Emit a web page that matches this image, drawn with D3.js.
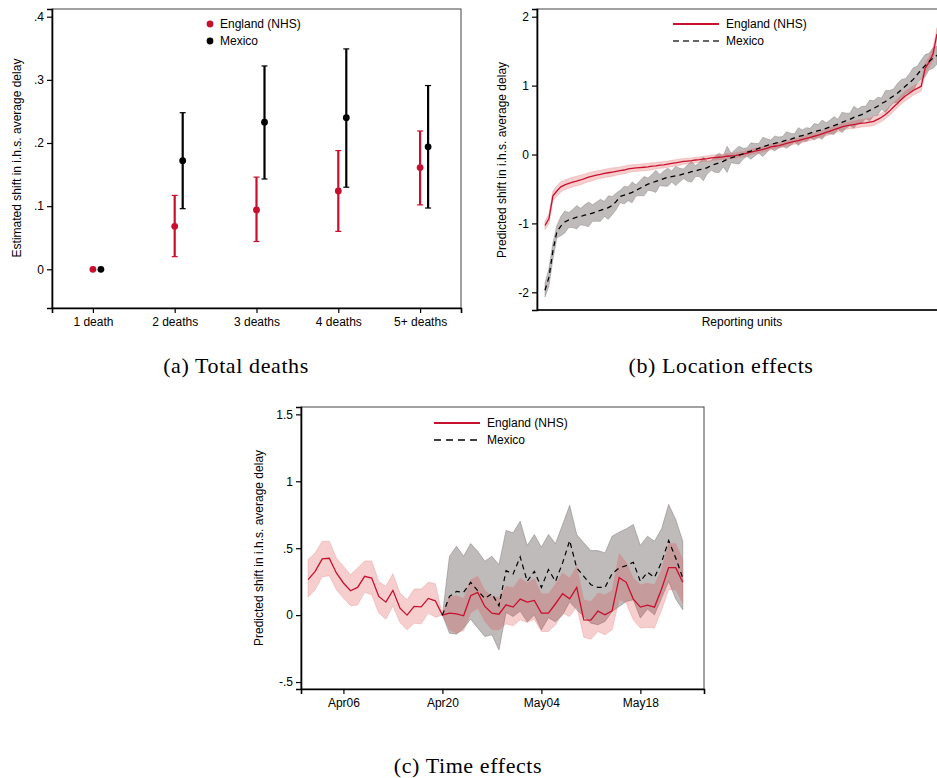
<!DOCTYPE html>
<html>
<head>
<meta charset="utf-8">
<script src="https://cdn.jsdelivr.net/npm/d3@7"></script>
<style>
body { margin: 0; background: #fff; }
text { font-family: "Liberation Sans", Arial, sans-serif; font-size: 12px; fill: #000; }
.caption { font-family: "Liberation Serif", "Times New Roman", serif; font-size: 22px; letter-spacing: 0.6px; }
</style>
</head>
<body>
<div id="chart"></div>
<script>
// (a) total deaths
var deathCats = ["1 death", "2 deaths", "3 deaths", "4 deaths", "5+ deaths"];
var engDeaths = [0, 0.068, 0.094, 0.124, 0.161];
var engDeathsLo = [null, 0.020, 0.044, 0.060, 0.102];
var engDeathsHi = [null, 0.117, 0.146, 0.188, 0.219];
var mexDeaths = [0, 0.172, 0.233, 0.240, 0.194];
var mexDeathsLo = [null, 0.096, 0.143, 0.130, 0.097];
var mexDeathsHi = [null, 0.248, 0.322, 0.349, 0.291];
var deathTicks = [0, 0.1, 0.2, 0.3, 0.4];
var deathTickLabels = ["0", ".1", ".2", ".3", ".4"];

// (b) location effects, units sorted by estimate
var engLoc = [-1.03, -0.93, -0.60, -0.53, -0.47, -0.44, -0.42, -0.40, -0.385, -0.37,
    -0.35, -0.33, -0.315, -0.30, -0.29, -0.275, -0.265, -0.255, -0.245, -0.235,
    -0.225, -0.21, -0.20, -0.195, -0.19, -0.185, -0.18, -0.17, -0.165, -0.155,
    -0.15, -0.14, -0.13, -0.12, -0.11, -0.10, -0.095, -0.09, -0.08, -0.075,
    -0.065, -0.06, -0.05, -0.045, -0.04, -0.035, -0.025, -0.02, -0.015, -0.005,
    0.005, 0.02, 0.035, 0.05, 0.06, 0.075, 0.09, 0.11, 0.12, 0.13,
    0.145, 0.16, 0.175, 0.19, 0.20, 0.22, 0.235, 0.25, 0.265, 0.28,
    0.30, 0.32, 0.34, 0.36, 0.38, 0.40, 0.415, 0.425, 0.435, 0.445,
    0.455, 0.46, 0.47, 0.48, 0.51, 0.54, 0.58, 0.63, 0.69, 0.74,
    0.80, 0.85, 0.89, 0.93, 0.96, 0.99, 1.25, 1.34, 1.46, 1.75];
var engLocCI = [0.06, 0.07, 0.07, 0.075, 0.075, 0.07, 0.07, 0.07, 0.07, 0.07,
    0.065, 0.065, 0.065, 0.06, 0.06, 0.06, 0.06, 0.06, 0.055, 0.055,
    0.055, 0.055, 0.05, 0.05, 0.05, 0.05, 0.05, 0.05, 0.045, 0.045,
    0.045, 0.045, 0.045, 0.045, 0.045, 0.04, 0.04, 0.04, 0.04, 0.04,
    0.04, 0.04, 0.04, 0.04, 0.04, 0.04, 0.04, 0.04, 0.04, 0.04,
    0.04, 0.04, 0.04, 0.04, 0.04, 0.04, 0.04, 0.04, 0.04, 0.04,
    0.04, 0.04, 0.04, 0.04, 0.045, 0.045, 0.045, 0.045, 0.045, 0.045,
    0.045, 0.05, 0.05, 0.05, 0.05, 0.05, 0.05, 0.05, 0.055, 0.055,
    0.055, 0.055, 0.06, 0.06, 0.06, 0.06, 0.06, 0.065, 0.065, 0.065,
    0.065, 0.07, 0.07, 0.07, 0.07, 0.07, 0.08, 0.08, 0.09, 0.09];
var mexLoc = [-1.97, -1.78, -1.40, -1.12, -1.04, -0.98, -0.95, -0.93, -0.91, -0.90,
    -0.88, -0.87, -0.85, -0.83, -0.81, -0.79, -0.77, -0.74, -0.68, -0.61,
    -0.59, -0.57, -0.55, -0.52, -0.49, -0.46, -0.43, -0.41, -0.39, -0.37,
    -0.35, -0.33, -0.32, -0.31, -0.30, -0.28, -0.27, -0.25, -0.24, -0.22,
    -0.21, -0.19, -0.16, -0.14, -0.12, -0.10, -0.07, -0.05, -0.03, -0.01,
    0.01, 0.035, 0.05, 0.07, 0.09, 0.11, 0.13, 0.15, 0.16, 0.175,
    0.19, 0.21, 0.22, 0.24, 0.26, 0.275, 0.29, 0.31, 0.33, 0.345,
    0.36, 0.38, 0.40, 0.42, 0.44, 0.465, 0.49, 0.51, 0.54, 0.56,
    0.58, 0.61, 0.64, 0.67, 0.70, 0.74, 0.77, 0.81, 0.85, 0.89,
    0.94, 0.99, 1.04, 1.09, 1.16, 1.23, 1.29, 1.35, 1.40, 1.44];
var mexLocCI = [0.10, 0.13, 0.12, 0.09, 0.14, 0.16, 0.11, 0.13, 0.17, 0.12,
    0.15, 0.18, 0.12, 0.14, 0.16, 0.11, 0.17, 0.13, 0.12, 0.09,
    0.13, 0.10, 0.15, 0.08, 0.11, 0.14, 0.09, 0.12, 0.16, 0.08,
    0.11, 0.13, 0.08, 0.14, 0.10, 0.07, 0.12, 0.15, 0.08, 0.10,
    0.17, 0.09, 0.07, 0.12, 0.14, 0.08, 0.19, 0.07, 0.10, 0.13,
    0.08, 0.06, 0.12, 0.09, 0.07, 0.14, 0.10, 0.06, 0.11, 0.08,
    0.07, 0.12, 0.09, 0.06, 0.13, 0.08, 0.10, 0.07, 0.12, 0.09,
    0.14, 0.08, 0.10, 0.13, 0.07, 0.15, 0.11, 0.09, 0.16, 0.10,
    0.12, 0.09, 0.15, 0.11, 0.13, 0.08, 0.16, 0.12, 0.10, 0.14,
    0.15, 0.11, 0.13, 0.17, 0.12, 0.14, 0.16, 0.12, 0.15, 0.13];
var locTicks = [-2, -1, 0, 1, 2];
var locTickLabels = ["-2", "-1", "0", "1", "2"];

// (c) time effects, one value per day
var engStart = new Date(2020, 3, 1);
var mexStart = new Date(2020, 3, 20);
var engTime = [0.265, 0.327, 0.42, 0.425, 0.315, 0.24, 0.182, 0.207, 0.29, 0.277,
    0.14, 0.097, 0.185, 0.052, 0.0, 0.065, 0.062, 0.125, 0.107, 0.0,
    0.015, 0.01, -0.005, 0.145, 0.17, 0.065, 0.015, 0.007, 0.077, 0.06,
    0.12, 0.097, 0.11, 0.015, 0.015, 0.085, 0.16, 0.122, 0.207, -0.035,
    -0.037, 0.03, 0.002, 0.032, 0.28, 0.245, 0.12, 0.06, 0.075, 0.06,
    0.195, 0.355, 0.355, 0.245];
var engTimeLo = [0.135, 0.19, 0.285, 0.295, 0.19, 0.127, 0.07, 0.075, 0.17, 0.152,
    0.015, -0.03, 0.07, -0.055, -0.11, -0.06, -0.065, 0.015, -0.015, 0,
    -0.11, -0.135, -0.115, 0.015, 0.052, -0.047, -0.11, -0.11, -0.065, -0.08,
    -0.035, -0.055, -0.03, -0.122, -0.122, -0.072, 0.015, -0.01, 0.065, -0.165,
    -0.18, -0.122, -0.147, -0.11, 0.115, 0.09, -0.035, -0.097, -0.092, -0.097,
    0.04, 0.19, 0.19, 0.09];
var engTimeHi = [0.415, 0.464, 0.552, 0.552, 0.427, 0.365, 0.302, 0.352, 0.405, 0.405,
    0.252, 0.215, 0.31, 0.165, 0.115, 0.195, 0.195, 0.245, 0.235, 0,
    0.14, 0.145, 0.125, 0.265, 0.29, 0.185, 0.14, 0.132, 0.215, 0.205,
    0.277, 0.24, 0.272, 0.16, 0.16, 0.232, 0.315, 0.277, 0.365, 0.115,
    0.102, 0.165, 0.152, 0.185, 0.46, 0.395, 0.277, 0.227, 0.24, 0.227,
    0.34, 0.535, 0.535, 0.415];
var mexTime = [0, 0.14, 0.177, 0.17, 0.245, 0.182, 0.125, 0.16, 0.07, 0.332, 0.307,
    0.435, 0.252, 0.327, 0.207, 0.34, 0.252, 0.39, 0.557, 0.352, 0.29,
    0.227, 0.207, 0.207, 0.31, 0.352, 0.37, 0.395, 0.252, 0.32, 0.282,
    0.395, 0.557, 0.427, 0.277];
var mexTimeLo = [0, -0.135, -0.142, -0.097, -0.03, -0.097, -0.16, -0.147, -0.26, 0.02, -0.01,
    0.03, -0.05, 0.0, -0.11, -0.02, -0.05, 0.0, 0.1, 0.04, -0.01,
    -0.06, -0.072, -0.047, 0.027, 0.065, 0.102, 0.115, -0.022, 0.045, 0.002,
    0.127, 0.252, 0.12, 0.04];
var mexTimeHi = [0, 0.44, 0.515, 0.44, 0.535, 0.477, 0.402, 0.44, 0.377, 0.632, 0.615,
    0.702, 0.52, 0.602, 0.507, 0.602, 0.535, 0.677, 0.82, 0.602, 0.54,
    0.482, 0.482, 0.465, 0.59, 0.62, 0.645, 0.677, 0.52, 0.59, 0.552,
    0.645, 0.827, 0.715, 0.552];
var timeTicks = [new Date(2020, 3, 6), new Date(2020, 3, 20), new Date(2020, 4, 4), new Date(2020, 4, 18)];
var timeTicks2 = [-0.5, 0, 0.5, 1, 1.5];
var timeTickLabels = ["-.5", "0", ".5", "1", "1.5"];

var red = "#c8102e",
    pinkFill = "rgb(220,60,60)",
    greyFill = "#7f7777",
    yTitle = "Predicted shift in i.h.s. average delay";

var svg = d3.select("#chart").append("svg")
    .attr("width", 937)
    .attr("height", 778);

function frame(b) {
    svg.append("rect")
        .attr("x", b.x0).attr("y", b.y0)
        .attr("width", b.x1 - b.x0).attr("height", b.y1 - b.y0)
        .attr("fill", "none").attr("stroke", "#444").attr("stroke-width", 1);
}

function styleAxis(g) {
    g.select(".domain").attr("stroke", "#000").attr("stroke-width", 1.6);
    g.selectAll(".tick line").attr("stroke", "#000").attr("stroke-width", 1.2);
    g.selectAll(".tick text").attr("font-size", 12).attr("font-family", null);
}

function leftAxis(y, x0, vals, labels) {
    svg.append("g")
        .attr("transform", "translate(" + x0 + ",0)")
        .call(d3.axisLeft(y).tickValues(vals).tickSizeOuter(0).tickSize(5).tickPadding(3)
            .tickFormat(function (d, i) { return labels[i]; }))
        .call(styleAxis);
}

function rotTitle(x, y, s) {
    svg.append("text")
        .attr("transform", "translate(" + x + "," + y + ") rotate(-90)")
        .attr("text-anchor", "middle").attr("dy", "0.35em")
        .text(s);
}

function caption(x, y, s) {
    svg.append("text").attr("class", "caption")
        .attr("x", x).attr("y", y).attr("text-anchor", "middle").text(s);
}

function lineLegend(x, y, items) {
    items.forEach(function (it, i) {
        svg.append("line")
            .attr("x1", x).attr("x2", x + 46)
            .attr("y1", y + i * 17).attr("y2", y + i * 17)
            .attr("stroke", it.color).attr("stroke-width", it.dash ? 1.4 : 2)
            .attr("stroke-dasharray", it.dash || null);
        svg.append("text")
            .attr("x", x + 53).attr("y", y + i * 17).attr("dy", "0.35em")
            .text(it.name);
    });
}

// ---------- (a) Total deaths ----------
(function () {
    var b = {x0: 52, x1: 461, y0: 9, y1: 308},
        off = 8;
    var x = d3.scaleLinear().domain([0.5, 5.5]).range([b.x0, b.x1]);
    var y = d3.scaleLinear().domain([-0.0613, 0.4122]).range([b.y1, b.y0]);
    frame(b);
    leftAxis(y, b.x0, deathTicks, deathTickLabels);
    svg.append("g")
        .attr("transform", "translate(0," + b.y1 + ")")
        .call(d3.axisBottom(x).tickValues([1, 2, 3, 4, 5]).tickSizeOuter(0).tickSize(5).tickPadding(4)
            .tickFormat(function (d, i) { return deathCats[i]; }))
        .call(styleAxis);

    var series = [
        {v: engDeaths, lo: engDeathsLo, hi: engDeathsHi, c: red, dx: 0},
        {v: mexDeaths, lo: mexDeathsLo, hi: mexDeathsHi, c: "#000", dx: off}
    ];
    series.forEach(function (s) {
        var g = svg.append("g");
        var rows = s.v.map(function (v, i) { return {i: i + 1, v: v, lo: s.lo[i], hi: s.hi[i]}; });
        var ci = rows.filter(function (d) { return d.lo !== null; });
        g.selectAll("line.bar").data(ci).enter().append("line")
            .attr("x1", function (d) { return x(d.i) + s.dx; })
            .attr("x2", function (d) { return x(d.i) + s.dx; })
            .attr("y1", function (d) { return y(d.lo); })
            .attr("y2", function (d) { return y(d.hi); })
            .attr("stroke", s.c).attr("stroke-width", 2.2);
        ["lo", "hi"].forEach(function (k) {
            g.selectAll("line.cap" + k).data(ci).enter().append("line")
                .attr("x1", function (d) { return x(d.i) + s.dx - 3; })
                .attr("x2", function (d) { return x(d.i) + s.dx + 3; })
                .attr("y1", function (d) { return y(d[k]); })
                .attr("y2", function (d) { return y(d[k]); })
                .attr("stroke", s.c).attr("stroke-width", 1.2);
        });
        g.selectAll("circle").data(rows).enter().append("circle")
            .attr("cx", function (d) { return x(d.i) + s.dx; })
            .attr("cy", function (d) { return y(d.v); })
            .attr("r", 3.4).attr("fill", s.c);
    });

    [["England (NHS)", red], ["Mexico", "#000"]].forEach(function (l, i) {
        svg.append("circle").attr("cx", 210).attr("cy", 24 + i * 17).attr("r", 3.4).attr("fill", l[1]);
        svg.append("text").attr("x", 220).attr("y", 24 + i * 17).attr("dy", "0.35em").text(l[0]);
    });
    rotTitle(17, 158, "Estimated shift in i.h.s. average delay");
    caption(236, 373, "(a) Total deaths");
}());

// ---------- (b) Location effects ----------
(function () {
    var b = {x0: 537, x1: 960, y0: 9, y1: 310};
    var y = d3.scaleLinear().domain([-2.257, 2.112]).range([b.y1, b.y0]);
    var xe = d3.scaleLinear().domain([0, engLoc.length - 1]).range([545, 937]);
    var xm = d3.scaleLinear().domain([0, mexLoc.length - 1]).range([545, 937]);
    frame(b);
    leftAxis(y, b.x0, locTicks, locTickLabels);
    svg.append("line").attr("x1", b.x0).attr("x2", b.x1).attr("y1", b.y1).attr("y2", b.y1)
        .attr("stroke", "#000").attr("stroke-width", 1.6);

    var mexBand = d3.area()
        .x(function (d, i) { return xm(i); })
        .y0(function (d, i) { return y(d - mexLocCI[i]); })
        .y1(function (d, i) { return y(d + mexLocCI[i]); });
    var engBand = d3.area()
        .x(function (d, i) { return xe(i); })
        .y0(function (d, i) { return y(d - engLocCI[i]); })
        .y1(function (d, i) { return y(d + engLocCI[i]); });
    svg.append("path").datum(mexLoc).attr("d", mexBand)
        .attr("fill", greyFill).attr("fill-opacity", 0.5)
        .attr("stroke", "#6f6a6a").attr("stroke-width", 0.5).attr("stroke-opacity", 0.7);
    svg.append("path").datum(engLoc).attr("d", engBand)
        .attr("fill", pinkFill).attr("fill-opacity", 0.25)
        .attr("stroke", "#e08a8a").attr("stroke-width", 0.6).attr("stroke-opacity", 0.6);
    svg.append("path").datum(engLoc)
        .attr("d", d3.line().x(function (d, i) { return xe(i); }).y(function (d) { return y(d); }))
        .attr("fill", "none").attr("stroke", red).attr("stroke-width", 1.3);
    svg.append("path").datum(mexLoc)
        .attr("d", d3.line().x(function (d, i) { return xm(i); }).y(function (d) { return y(d); }))
        .attr("fill", "none").attr("stroke", "#000").attr("stroke-width", 1.3)
        .attr("stroke-dasharray", "5,4");

    lineLegend(673, 24, [{name: "England (NHS)", color: red}, {name: "Mexico", color: "#333", dash: "6,4"}]);
    svg.append("text").attr("x", 742).attr("y", 322).attr("dy", "0.35em")
        .attr("text-anchor", "middle").text("Reporting units");
    rotTitle(502, 160, yTitle);
    caption(721, 373, "(b) Location effects");
}());

// ---------- (c) Time effects ----------
(function () {
    var b = {x0: 301, x1: 704, y0: 407, y1: 689};
    var x = d3.scaleTime().domain([new Date(2020, 2, 31), new Date(2020, 4, 27)]).range([b.x0, b.x1]);
    var y = d3.scaleLinear().domain([-0.552, 1.555]).range([b.y1, b.y0]);
    var day = function (start, i) { return d3.timeDay.offset(start, i); };
    frame(b);
    leftAxis(y, b.x0, timeTicks2, timeTickLabels);
    svg.append("g")
        .attr("transform", "translate(0," + b.y1 + ")")
        .call(d3.axisBottom(x).tickValues(timeTicks).tickSizeOuter(0).tickSize(5).tickPadding(4)
            .tickFormat(d3.timeFormat("%b%d")))
        .call(styleAxis);

    var mexBand = d3.area()
        .x(function (d, i) { return x(day(mexStart, i)); })
        .y0(function (d, i) { return y(mexTimeLo[i]); })
        .y1(function (d, i) { return y(mexTimeHi[i]); });
    var engBand = d3.area()
        .x(function (d, i) { return x(day(engStart, i)); })
        .y0(function (d, i) { return y(engTimeLo[i]); })
        .y1(function (d, i) { return y(engTimeHi[i]); });
    svg.append("path").datum(mexTime).attr("d", mexBand)
        .attr("fill", greyFill).attr("fill-opacity", 0.5)
        .attr("stroke", "#6f6a6a").attr("stroke-width", 0.6).attr("stroke-opacity", 0.7);
    svg.append("path").datum(engTime).attr("d", engBand)
        .attr("fill", pinkFill).attr("fill-opacity", 0.25)
        .attr("stroke", "#e08a8a").attr("stroke-width", 0.6).attr("stroke-opacity", 0.6);
    svg.append("path").datum(engTime)
        .attr("d", d3.line().x(function (d, i) { return x(day(engStart, i)); }).y(function (d) { return y(d); }))
        .attr("fill", "none").attr("stroke", red).attr("stroke-width", 1.3);
    svg.append("path").datum(mexTime)
        .attr("d", d3.line().x(function (d, i) { return x(day(mexStart, i)); }).y(function (d) { return y(d); }))
        .attr("fill", "none").attr("stroke", "#000").attr("stroke-width", 1.2)
        .attr("stroke-dasharray", "5,4");

    lineLegend(434, 423, [{name: "England (NHS)", color: red}, {name: "Mexico", color: "#000", dash: "7,5"}]);
    rotTitle(259, 548, yTitle);
    caption(468, 773, "(c) Time effects");
}());
</script>
</body>
</html>
